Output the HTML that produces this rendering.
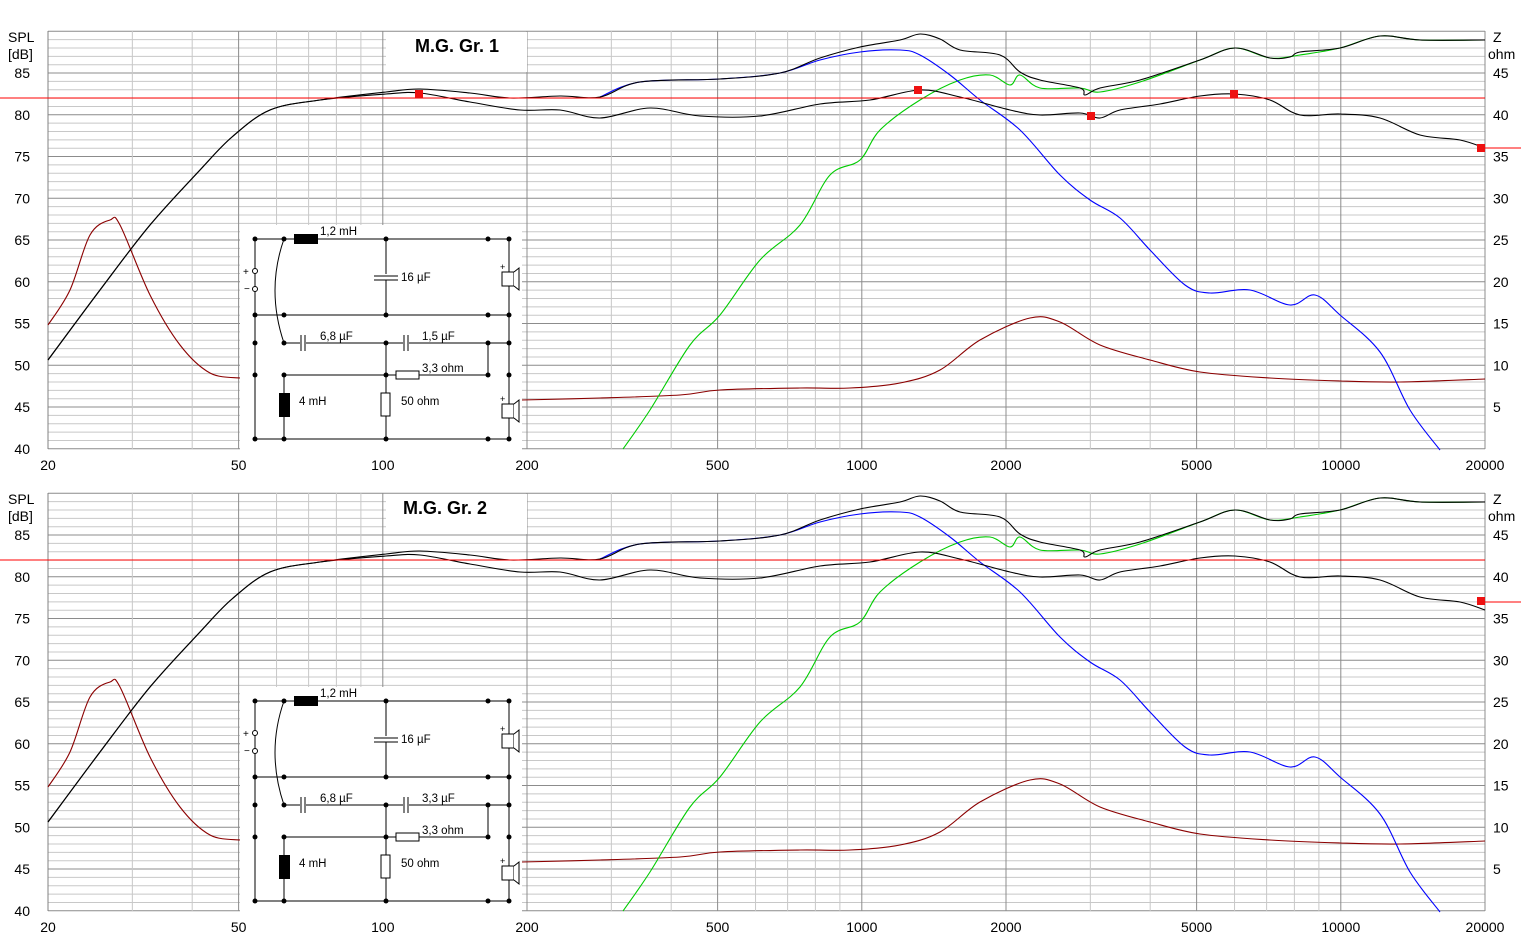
<!DOCTYPE html>
<html><head><meta charset="utf-8"><style>
body{margin:0;background:#fff;width:1521px;height:951px;overflow:hidden}
svg{display:block;font-family:"Liberation Sans",sans-serif}
</style></head><body>
<svg id="s" width="1521" height="951" xmlns="http://www.w3.org/2000/svg"></svg>
<script>
const S=document.getElementById('s');let h='';
const X=f=>48+479*Math.log10(f/20), Y=d=>31.3+(90-d)*8.35;
const upper=[[48,360],[100,290],[150,225],[200,170],[232,137],[270,110],[320,100],[386,92],[420,89],[470,93],[510,98],[560,96],[600,97],[640,82],[720,79],[780,73],[820,58],[860,47],[900,40],[920,34],[940,39],[960,50],[1000,55],[1020,72],[1040,80],[1080,88],[1085,95],[1100,88],[1140,80],[1200,60],[1235,48],[1270,58],[1290,57],[1300,52],[1340,48],[1380,36],[1420,40],[1485,40]];
const lower=[[48,360],[100,290],[150,225],[200,170],[232,137],[270,110],[320,100],[386,94],[420,93],[470,102],[520,110],[560,110],[600,118],[650,108],[700,116],[760,116],[820,104],[870,100],[920,90],[960,97],[1010,110],[1040,115],[1080,113],[1100,118],[1120,110],[1160,104],[1200,96],[1235,94],[1270,100],[1300,115],[1340,114],[1380,118],[1420,135],[1460,140],[1485,148]];
const blue=[[600,97],[640,82],[720,79],[780,73],[820,60],[860,52],[900,50],[920,55],[950,75],[980,100],[1020,130],[1060,175],[1090,200],[1120,218],[1150,250],[1185,285],[1210,293],[1250,290],[1290,305],[1315,295],[1340,315],[1380,352],[1410,410],[1440,450]];
const green=[[623,449],[650,410],[690,345],[720,315],[760,260],[800,225],[830,175],[860,160],[880,130],[920,100],[960,80],[990,75],[1010,85],[1020,75],[1040,88],[1080,88],[1100,92],[1140,82],[1200,60],[1235,48],[1270,58],[1300,55],[1340,48],[1380,36],[1420,40],[1485,40]];
const imp1=[[48,325],[70,290],[90,235],[110,220],[120,225],[150,295],[180,345],[210,373],[240,378]];
const imp2=[[522,400],[600,398],[680,395],[720,390],[800,388],[850,388],[900,383],[940,370],[980,340],[1030,318],[1060,322],[1100,345],[1150,360],[1200,372],[1270,378],[1340,381],[1400,382],[1485,379]];
function pl(p,c,o){
 const q=p.map(a=>[a[0],a[1]+o]);let d=`M${q[0][0]},${q[0][1]}`;
 for(let i=0;i<q.length-1;i++){const p0=q[Math.max(0,i-1)],p1=q[i],p2=q[i+1],p3=q[Math.min(q.length-1,i+2)];
  const c1=[p1[0]+(p2[0]-p0[0])/6,p1[1]+(p2[1]-p0[1])/6],c2=[p2[0]-(p3[0]-p1[0])/6,p2[1]-(p3[1]-p1[1])/6];
  d+=` C${c1[0].toFixed(1)},${c1[1].toFixed(1)} ${c2[0].toFixed(1)},${c2[1].toFixed(1)} ${p2[0]},${p2[1]}`;}
 return `<path fill="none" stroke="${c}" stroke-width="1.1" d="${d}"/>`;
}
function chart(o,title,tx,cap2,marks,rline){
 let g='';
 for(let d=40;d<=90;d++){const y=Y(d)+o;g+=`<line x1="48" x2="1485" y1="${y}" y2="${y}" stroke="${d%5?'#c8c8c8':'#8c8c8c'}"/>`;}
 for(let dec=10;dec<=10000;dec*=10)for(let k=1;k<10;k++){const f=dec*k;if(f<20||f>20000)continue;const x=X(f);const maj=(k==1||k==2||k==5);
  g+=`<line x1="${x}" x2="${x}" y1="${31+o}" y2="${449+o}" stroke="${maj?'#8c8c8c':'#c8c8c8'}"/>`;}
 g+=`<line x1="48" x2="48" y1="${31+o}" y2="${449+o}" stroke="#808080"/>`;
 g+=`<text x="8" y="${42+o}" font-size="14">SPL</text><text x="8" y="${59+o}" font-size="14">[dB]</text>`;
 for(let d=40;d<=85;d+=5)g+=`<text x="30" y="${Y(d)+o+5}" font-size="14" text-anchor="end">${d}</text>`;
 g+=`<text x="1493" y="${42+o}" font-size="14">Z</text><text x="1488" y="${59+o}" font-size="14">ohm</text>`;
 for(let z=5;z<=45;z+=5)g+=`<text x="1493" y="${Y(z+40)+o+5}" font-size="14">${z}</text>`;
 [[20,'20'],[50,'50'],[100,'100'],[200,'200'],[500,'500'],[1000,'1000'],[2000,'2000'],[5000,'5000'],[10000,'10000'],[20000,'20000']].forEach(a=>g+=`<text x="${X(a[0])}" y="${470+o}" font-size="14" text-anchor="middle">${a[1]}</text>`);
 g+=`<rect x="386" y="${32+o}" width="141" height="40" fill="#fff"/><text x="${tx}" y="${52+o}" font-size="18" font-weight="bold" text-anchor="middle">${title}</text>`;
 g+=pl(imp1,'#8b0000',o)+pl(imp2,'#8b0000',o)+pl(green,'#00cc00',o)+pl(blue,'#0000ff',o)+pl(upper,'#000',o)+pl(lower,'#000',o);
 g+=`<line x1="0" x2="1485" y1="${98+o}" y2="${98+o}" stroke="#ff0000"/><line x1="1485" x2="1521" y1="${rline+o}" y2="${rline+o}" stroke="#ff0000"/>`;
 marks.forEach(m=>g+=`<rect x="${m[0]-4}" y="${m[1]-4+o}" width="8" height="8" fill="#ee1111"/>`);
 const c=(x,y)=>`<circle cx="${x}" cy="${y+o}" r="2.5"/>`;
 let n=`<rect x="240" y="${225+o}" width="282" height="225" fill="#fff"/><g stroke="#000" fill="none">`;
 const L=(a,b,cc,d)=>n+=`<line x1="${a}" y1="${b+o}" x2="${cc}" y2="${d+o}"/>`;
 L(255,239,509,239);L(255,315,509,315);L(284,343,509,343);L(284,375,488,375);L(255,439,509,439);
 L(255,239,255,439);L(386,239,386,315);L(509,239,509,439);L(488,343,488,375);L(386,343,386,439);L(284,375,284,439);
 n+=`<path d="M284,${239+o} Q266,${290+o} 284,${343+o}"/></g>`;
 n+=`<rect x="294" y="${234+o}" width="24" height="10" fill="#000"/><rect x="279" y="${393+o}" width="11" height="24" fill="#000"/>`;
 n+=`<rect x="374" y="${274+o}" width="24" height="6" fill="#fff"/><line x1="374" x2="398" y1="${276+o}" y2="${276+o}" stroke="#000"/><line x1="374" x2="398" y1="${280+o}" y2="${280+o}" stroke="#000"/>`;
 [[303],[406]].forEach(a=>n+=`<rect x="${a[0]-3}" y="${336+o}" width="6" height="14" fill="#fff"/><line x1="${a[0]-2}" x2="${a[0]-2}" y1="${335+o}" y2="${351+o}" stroke="#000"/><line x1="${a[0]+2}" x2="${a[0]+2}" y1="${335+o}" y2="${351+o}" stroke="#000"/>`);
 n+=`<rect x="396" y="${371+o}" width="23" height="8" fill="#fff" stroke="#000"/><rect x="381" y="${393+o}" width="9" height="23" fill="#fff" stroke="#000"/>`;
 [272,404].forEach(y=>n+=`<rect x="502" y="${y+o}" width="12" height="14" fill="#fff" stroke="#000"/><path d="M514,${y+o} l5,-4 v22 l-5,-4" fill="#fff" stroke="#000"/><text x="500" y="${y-2+o}" font-size="9">+</text>`);
 n+=`<circle cx="255" cy="${271+o}" r="2.5" fill="#fff" stroke="#000"/><circle cx="255" cy="${289+o}" r="2.5" fill="#fff" stroke="#000"/><text x="243" y="${275+o}" font-size="10">+</text><text x="244" y="${292+o}" font-size="10">−</text>`;
 [[255,239],[284,239],[386,239],[488,239],[509,239],[255,315],[284,315],[386,315],[488,315],[509,315],[255,343],[284,343],[386,343],[488,343],[509,343],[255,375],[284,375],[386,375],[488,375],[509,375],[255,439],[284,439],[386,439],[488,439],[509,439]].forEach(p=>n+=c(p[0],p[1]));
 n+=`<g font-size="11.5"><text x="320" y="${235+o}">1,2  mH</text><text x="401" y="${281+o}">16 µF</text><text x="320" y="${340+o}">6,8   µF</text><text x="422" y="${340+o}">${cap2} µF</text><text x="422" y="${372+o}">3,3 ohm</text><text x="299" y="${405+o}">4 mH</text><text x="401" y="${405+o}">50 ohm</text></g>`;
 return g+n;
}
h+=chart(0,'M.G. Gr. 1',457,'1,5',[[419,94],[918,90],[1091,116],[1234,94],[1481,148]],148);
h+=chart(462,'M.G. Gr. 2',445,'3,3',[[1481,139]],140);
S.innerHTML=h;
</script>
</body></html>
